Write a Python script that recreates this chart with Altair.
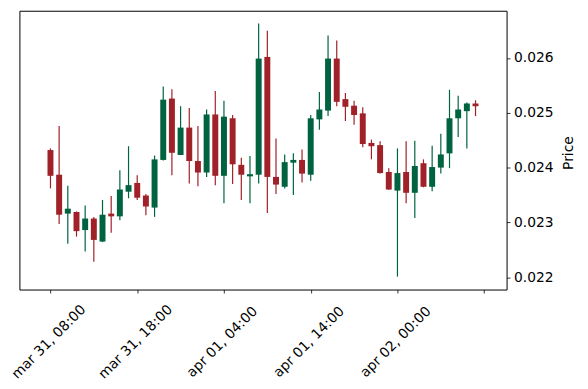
import altair as alt
import pandas as pd

# hourly candles starting mar 31, 08:00
opens = [0.02432, 0.02387, 0.02316, 0.02319, 0.02286, 0.02307, 0.02265, 0.02316, 0.02311, 0.02356,
         0.02372, 0.02349, 0.02327, 0.02414, 0.02526, 0.02423, 0.02473, 0.02412, 0.02391, 0.02497,
         0.02385, 0.02490, 0.02405, 0.02384, 0.02387, 0.02602, 0.02383, 0.02365, 0.02409, 0.02414,
         0.02387, 0.02488, 0.02504, 0.02599, 0.02525, 0.02513, 0.02499, 0.02445, 0.02441, 0.02392,
         0.02358, 0.02392, 0.02354, 0.02408, 0.02365, 0.02400, 0.02426, 0.02490, 0.02503, 0.02517]
highs = [0.02435, 0.02476, 0.02367, 0.02320, 0.02331, 0.02310, 0.02341, 0.02348, 0.02395, 0.02439,
         0.02386, 0.02352, 0.02422, 0.02548, 0.02543, 0.02512, 0.02509, 0.02476, 0.02506, 0.02540,
         0.02522, 0.02496, 0.02418, 0.02421, 0.02663, 0.02650, 0.02453, 0.02424, 0.02426, 0.02433,
         0.02496, 0.02538, 0.02641, 0.02632, 0.02536, 0.02522, 0.02510, 0.02451, 0.02448, 0.02399,
         0.02435, 0.02448, 0.02449, 0.02415, 0.02440, 0.02462, 0.02542, 0.02531, 0.02519, 0.02523]
lows = [0.02362, 0.02297, 0.02261, 0.02274, 0.02247, 0.02228, 0.02264, 0.02281, 0.02304, 0.02344,
        0.02341, 0.02313, 0.02310, 0.02413, 0.02386, 0.02423, 0.02371, 0.02366, 0.02383, 0.02368,
        0.02335, 0.02370, 0.02341, 0.02335, 0.02371, 0.02317, 0.02352, 0.02362, 0.02350, 0.02373,
        0.02376, 0.02469, 0.02494, 0.02512, 0.02485, 0.02478, 0.02437, 0.02415, 0.02389, 0.02359,
        0.02201, 0.02335, 0.02308, 0.02364, 0.02357, 0.02389, 0.02399, 0.02456, 0.02435, 0.02494]
closes = [0.02385, 0.02314, 0.02325, 0.02284, 0.02307, 0.02268, 0.02314, 0.02311, 0.02360, 0.02368,
          0.02345, 0.02329, 0.02415, 0.02524, 0.02427, 0.02473, 0.02412, 0.02391, 0.02497, 0.02385,
          0.02493, 0.02406, 0.02387, 0.02388, 0.02599, 0.02383, 0.02369, 0.02410, 0.02414, 0.02389,
          0.02490, 0.02506, 0.02599, 0.02520, 0.02511, 0.02496, 0.02443, 0.02439, 0.02390, 0.02360,
          0.02390, 0.02354, 0.02403, 0.02365, 0.02401, 0.02424, 0.02490, 0.02506, 0.02517, 0.02512]

tick_positions = [0, 10, 20, 30, 40, 50]
tick_labels = ["mar 31, 08:00", "mar 31, 18:00", "apr 01, 04:00", "apr 01, 14:00", "apr 02, 00:00", ""]
price_ticks = [0.022, 0.023, 0.024, 0.025, 0.026]

UP = "#006340"
DOWN = "#A02128"
FONT = "DejaVu Sans"
FS = 13.9

df = pd.DataFrame({
    "idx": list(range(len(opens))),
    "open": opens, "high": highs, "low": lows, "close": closes,
})
df["dir"] = ["up" if c >= o else "down" for o, c in zip(opens, closes)]

label_expr = "[" + ",".join("'" + s + "'" for s in tick_labels) + "][round(datum.value / 10)]"

x = alt.X("idx:Q",
          scale=alt.Scale(domain=[-3.58, 52.58], nice=False, zero=False, padding=0),
          axis=alt.Axis(values=tick_positions, labelExpr=label_expr, title=None, grid=False,
                        domain=False, tickSize=3.5, tickWidth=0.8, tickColor="black",
                        labelAngle=315, labelAlign="center", labelBaseline="middle",
                        labelPadding=49, labelOffset=-2, labelFont=FONT, labelFontSize=FS,
                        labelColor="black",
                        labelOverlap=False, labelFlush=False, labelBound=False))
y_scale = alt.Scale(domain=[0.021774, 0.026863], nice=False, zero=False, padding=0)
color = alt.Color("dir:N", scale=alt.Scale(domain=["up", "down"], range=[UP, DOWN]), legend=None)

wicks = alt.Chart(df).mark_rule(strokeWidth=1.2).encode(
    x=x,
    y=alt.Y("low:Q", scale=y_scale,
            axis=alt.Axis(orient="right", values=price_ticks, format=".3f", grid=False, domain=False,
                          tickSize=3.5, tickWidth=0.8, tickColor="black", labelPadding=3.5,
                          labelFont=FONT, labelFontSize=FS, labelColor="black",
                          title="Price", titleFont=FONT, titleFontSize=FS, titleFontWeight="normal",
                          titleColor="black", titleAngle=270, titleAlign="center",
                          titleBaseline="middle", titleX=62, titleY=143)),
    y2="high:Q",
    color=color,
)
bodies = alt.Chart(df).mark_bar(size=6).encode(
    x=x,
    y=alt.Y("open:Q", scale=y_scale),
    y2="close:Q",
    color=color,
)

chart = alt.layer(wicks, bodies).properties(
    width=491, height=281,
    autosize=alt.AutoSizeParams(type="none"),
    padding={"left": 11.5, "top": 1.3, "right": 74, "bottom": 90},
).configure(background="white", view=alt.ViewConfig(stroke="black", strokeWidth=1))

chart.save("out.html", embed_options={"renderer": "svg", "actions": False})
